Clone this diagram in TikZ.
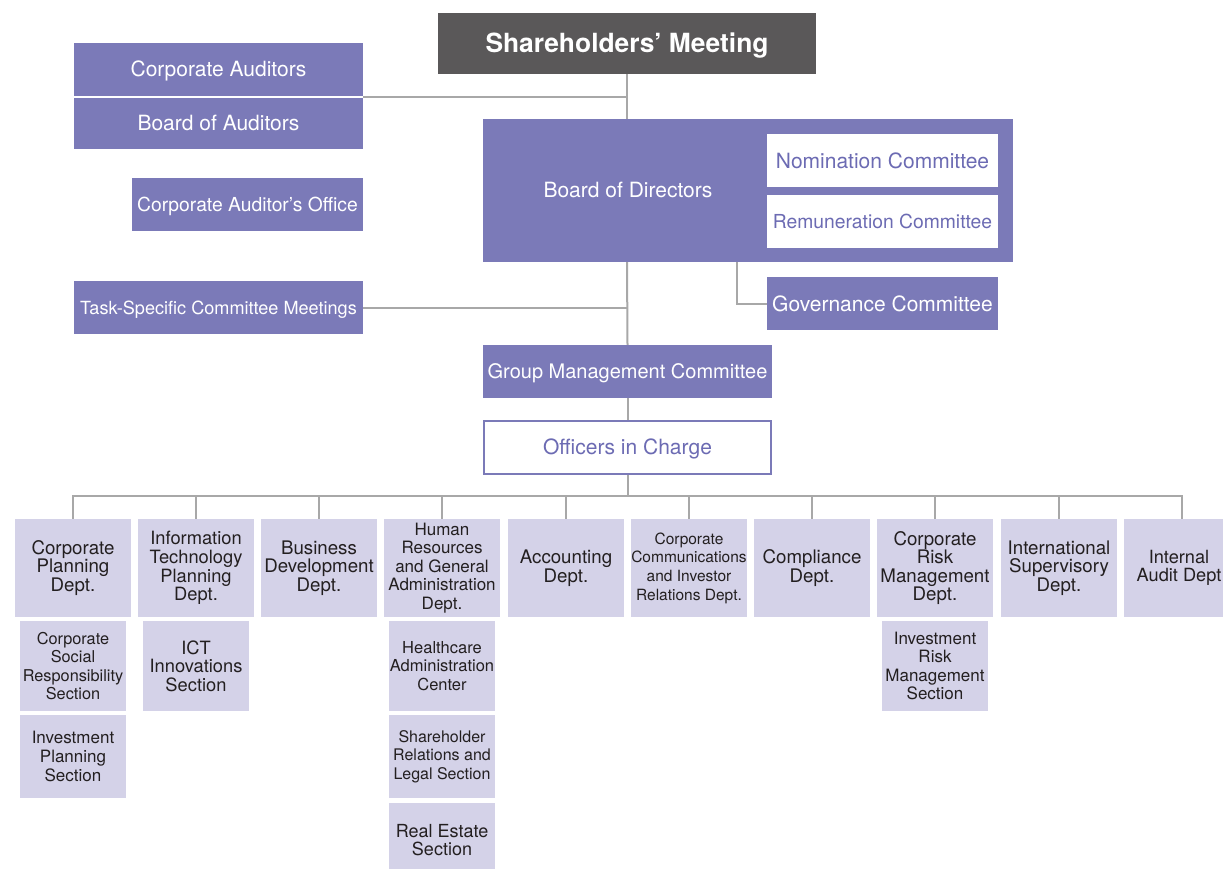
\documentclass[tikz,border=0pt]{standalone}
\usepackage{fontspec}
\setmainfont{TeX Gyre Heros}
\definecolor{pur}{HTML}{7B7AB8}
\definecolor{ptxt}{HTML}{6C6BB3}
\definecolor{dk}{HTML}{5A5859}
\definecolor{lt}{HTML}{D4D2E8}
\definecolor{ln}{HTML}{A8A8A8}
\definecolor{tx}{HTML}{231F20}
\begin{document}
\begin{tikzpicture}[x=1pt,y=-1pt,
  box/.style={rectangle,inner sep=0pt,anchor=center},
  fs/.style={font=\fontsize{#1}{24}\selectfont,text height=0.72*#1,text depth=0pt},
  pbox/.style={box,fs=21,fill=pur,text=white},
  wbox/.style={box,fs=21,fill=white,text=ptxt},
  dept/.style={box,fill=lt,text=tx,minimum width=116pt,minimum height=98pt,align=center,font=\fontsize{18.7}{18.6}\selectfont},
  sub/.style={box,fill=lt,text=tx,minimum width=106pt,align=center,font=\fontsize{17}{18.6}\selectfont},
  conn/.style={draw=ln,line width=2pt}]
\useasboundingbox (0,0) rectangle (1223,868);
\clip (0,0) rectangle (1223,868);

% top level
\node[box,fill=dk,text=white,minimum width=378pt,minimum height=60.5pt,font=\bfseries\fontsize{26.4}{30}\selectfont,text height=19pt,text depth=0pt] (sm) at (627,43.3) {Shareholders’ Meeting};

\node[pbox,minimum width=289pt,minimum height=52.5pt] (ca) at (218.5,69.25) {Corporate Auditors};
\node[pbox,minimum width=289pt,minimum height=51.5pt] (ba) at (218.5,123.25) {Board of Auditors};
\coordinate (audc) at (363,96.5);
\node[pbox,fs=19.3,minimum width=231pt,minimum height=53pt] (cao) at (247.5,204.5) {Corporate Auditor’s Office};
\node[pbox,fs=18.1,minimum width=289pt,minimum height=53pt] (task) at (218.5,307.5) {Task-Specific Committee Meetings};

\node[box,fill=pur,minimum width=530pt,minimum height=143pt] (bod) at (748,190.5) {};
\node[box,fs=21,text=white] (bodt) at (628,190) {Board of Directors};
\node[wbox,minimum width=231pt,minimum height=53pt] (nom) at (882.5,160.5) {Nomination Committee};
\node[wbox,fs=19.3,minimum width=231pt,minimum height=53pt] (rem) at (882.5,221.5) {Remuneration Committee};
\node[pbox,minimum width=231pt,minimum height=53pt] (gov) at (882.5,303.5) {Governance Committee};
\coordinate (gvt) at (736.5,262);

\node[pbox,fs=20,minimum width=289pt,minimum height=53pt] (gmc) at (627.5,371.5) {Group Management Committee};
\node[wbox,draw=pur,line width=2pt,minimum width=287pt,minimum height=53pt] (oic) at (627.5,447) {Officers in Charge};
\coordinate (bus) at (627.5,496);

% departments
\node[dept] (d1) at (73,568) {Corporate\\Planning\\Dept.};
\node[dept,font=\fontsize{18.3}{18.6}\selectfont] (d2) at (196,568) {Information\\Technology\\Planning\\Dept.};
\node[dept] (d3) at (319,568) {Business\\Development\\Dept.};
\node[dept,font=\fontsize{17}{18.6}\selectfont] (d4) at (442,568) {Human\\Resources\\and General\\Administration\\Dept.};
\node[dept] (d5) at (566,568) {Accounting\\Dept.};
\node[dept,font=\fontsize{15.5}{18.6}\selectfont] (d6) at (689,568) {Corporate\\Communications\\and Investor\\Relations Dept.};
\node[dept] (d7) at (812,568) {Compliance\\Dept.};
\node[dept] (d8) at (935,568) {Corporate\\Risk\\Management\\Dept.};
\node[dept] (d9) at (1059,568) {International\\Supervisory\\Dept.};
\node[dept] (d10) at (1182,568) {};
\node[box,align=center,text=tx,font=\fontsize{18.2}{18.6}\selectfont] (d10t) at (1179,568) {Internal\\Audit Dept};

% sections
\node[sub,minimum height=90pt,font=\fontsize{16.3}{18.6}\selectfont] (s1a) at (73,666) {Corporate\\Social\\Responsibility\\Section};
\node[sub,minimum height=83pt] (s1b) at (73,756.5) {Investment\\Planning\\Section};
\node[sub,minimum height=90pt,font=\fontsize{18.3}{18.6}\selectfont] (s2a) at (196,666) {ICT\\Innovations\\Section};
\node[sub,minimum height=90pt,font=\fontsize{16.5}{18.6}\selectfont] (s4a) at (442,666) {Healthcare\\Administration\\Center};
\node[sub,minimum height=83pt,font=\fontsize{16}{18.6}\selectfont] (s4b) at (442,756.5) {Shareholder\\Relations and\\Legal Section};
\node[sub,minimum height=74pt,font=\fontsize{18}{18.6}\selectfont] (s4c) at (442,840) {Real Estate\\Section};
\node[sub,minimum height=90pt] (s8a) at (935,666) {Investment\\Risk\\Management\\Section};

% connectors
\draw[conn] (sm.south) -- (sm.south |- bod.north);
\draw[conn] (sm.south |- bod.south) -- (gmc.north);
\draw[conn] (gmc) -- (oic);
\draw[conn] (oic) -- (bus);
\draw[conn] (audc) -- (audc -| sm.south);
\draw[conn] (task.east) -- (task.east -| sm.south);
\draw[conn] (gvt) |- (gov.west);
\draw[conn] (d1.north) |- (bus) -| (d10.north);
\foreach \d in {d2,d3,d4,d5,d6,d7,d8,d9}{
  \draw[conn] (\d.north) -- (\d.north |- bus);
}
\end{tikzpicture}
\end{document}
